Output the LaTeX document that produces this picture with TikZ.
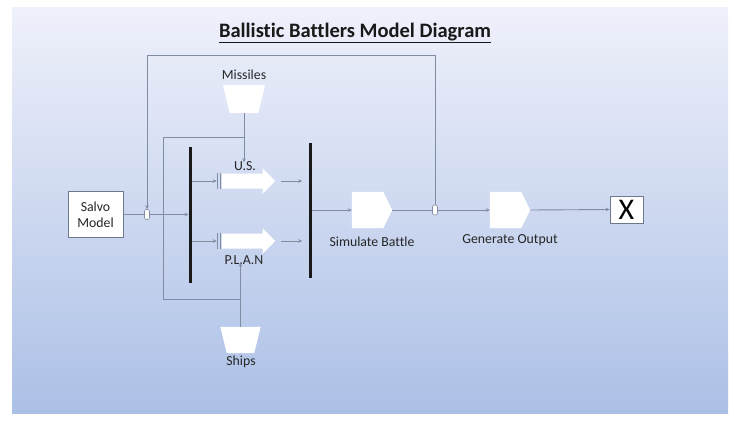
\documentclass[tikz,border=0pt]{standalone}
\usepackage{fontspec}
\setmainfont[Ligatures={CommonOff}]{Carlito}
\usetikzlibrary{arrows.meta}
\definecolor{conn}{RGB}{128,140,162}
\definecolor{boxc}{RGB}{110,120,140}
\definecolor{bgtop}{RGB}{239,241,251}
\definecolor{bgbot}{RGB}{172,192,230}
\begin{document}
\begin{tikzpicture}[x=1pt,y=-1pt,
  conn/.style={draw=conn, line width=0.9pt},
  arr/.style={conn, -{Stealth[length=4pt,width=3.5pt]}},
  lbl/.style={font=\fontsize{13.8}{16}\selectfont, text=black!85, inner sep=1pt},
  anch/.style={draw=none, inner sep=0, rectangle},
  vbar/.style={fill=black!90, draw=none, minimum width=3.5pt, inner sep=0},
  junc/.style={draw=conn, fill=white, rounded corners=2pt, minimum width=5pt, minimum height=10pt, inner sep=0, line width=0.6pt},
  shapefill/.style={fill=white, draw=none},
]
\useasboundingbox (0,0) rectangle (735,421);
\fill[white] (0,0) rectangle (735,421);
\shade[top color=bgtop, bottom color=bgbot] (12,7) rectangle (728,413);

% title
\node[font=\bfseries\fontsize{20.5}{24}\selectfont, anchor=base, text=black!90] (title) at (355,37) {\underline{Ballistic Battlers Model Diagram}};

% nodes
\node[draw=boxc, fill=white, line width=0.8pt, minimum width=55pt, minimum height=46pt, align=center, lbl] (salvo) at (95.5,214.5) {Salvo\\Model};
\node[junc] (j1) at (147,214.5) {};
\node[vbar, minimum height=136pt] (barL) at (190.5,215) {};
\node[vbar, minimum height=135pt] (barR) at (310.5,210.5) {};

% trapezoids
\node[anch, minimum width=42pt, minimum height=28pt] (mis) at (244,99) {};
\fill[shapefill] (mis.north west) -- (mis.north east) -- ([xshift=-7pt]mis.south east) -- ([xshift=7pt]mis.south west) -- cycle;
\node[lbl] (mislbl) at (244,75) {Missiles};
\node[anch, minimum width=40pt, minimum height=26pt] (ships) at (240.5,340) {};
\fill[shapefill] (ships.north west) -- (ships.north east) -- ([xshift=-6.5pt]ships.south east) -- ([xshift=6.5pt]ships.south west) -- cycle;
\node[lbl] (shipslbl) at (241,362) {Ships};

% block arrows
\node[anch, minimum width=53pt, minimum height=25pt] (us) at (248.5,181) {};
\node[anch, minimum width=53pt, minimum height=25pt] (plan) at (248.5,241) {};
\foreach \a in {us,plan}{
  \fill[shapefill] ([yshift=7.5pt]\a.west) -- ([xshift=-12.5pt,yshift=7.5pt]\a.east) -- ([xshift=-12.5pt]\a.north east) -- (\a.east) -- ([xshift=-12.5pt]\a.south east) -- ([xshift=-12.5pt,yshift=-7.5pt]\a.east) -- ([yshift=-7.5pt]\a.west) -- cycle;
}
\node[lbl] (uslbl) at (245,166) {U.S.};
\node[lbl] (planlbl) at (244,260) {P.L.A.N};

% gates
\node[anch, minimum width=40pt, minimum height=36pt] (sim) at (372,210) {};
\node[anch, minimum width=40pt, minimum height=36pt] (gen) at (510,210) {};
\foreach \g in {sim,gen}{
  \fill[shapefill] (\g.north west) -- ([xshift=-9pt]\g.north east) -- (\g.east) -- ([xshift=-9pt]\g.south east) -- (\g.south west) -- cycle;
}
\node[lbl] (simlbl) at (372,242) {Simulate Battle};
\node[junc] (j2) at (435,210) {};
\node[lbl] (genlbl) at (510,240) {Generate Output};
\node[draw=boxc, fill=white, line width=0.8pt, minimum width=33pt, minimum height=27pt, inner sep=0, font=\fontsize{30}{30}\selectfont] (xbox) at (626.5,209.5) {X};

% connectors
\draw[conn] (salvo.east) -- (j1.west);
\draw[arr] (j1.east) -- (barL.west |- j1);
\coordinate (ytop) at (0,55);
\draw[arr] (j2.north) -- (j2.north |- ytop) -| (j1.north);

\coordinate (yup) at (0,137);
\coordinate (ylow) at (0,299);
\coordinate (xloop) at (163,0);
\draw[conn] (mis.south |- yup) -| (xloop |- ylow) -- (ships.north |- ylow);
\draw[arr] (mis.south) -- ([yshift=-2pt]mis.south |- uslbl.north);
\draw[arr] (ships.north) -- ([yshift=3pt]ships.north |- planlbl.south);

\foreach \a in {us,plan}{
  \draw[conn, line width=0.7pt] ([xshift=-1.5pt,yshift=-8pt]\a.west) -- ([xshift=-1.5pt,yshift=8pt]\a.west);
  \draw[conn, line width=0.7pt] ([xshift=-4pt,yshift=-8pt]\a.west) -- ([xshift=-4pt,yshift=8pt]\a.west);
  \draw[arr] (barL.east |- \a.west) -- ([xshift=-5pt]\a.west);
  \draw[arr] ([xshift=6pt]\a.east) -- ++(21,0);
}

\draw[arr] (barR.east |- sim.west) -- (sim.west);
\draw[conn] (sim.east) -- (j2.west);
\draw[arr] (j2.east) -- (gen.west);
\draw[arr] (gen.east) -- (xbox.west);
\end{tikzpicture}
\end{document}
